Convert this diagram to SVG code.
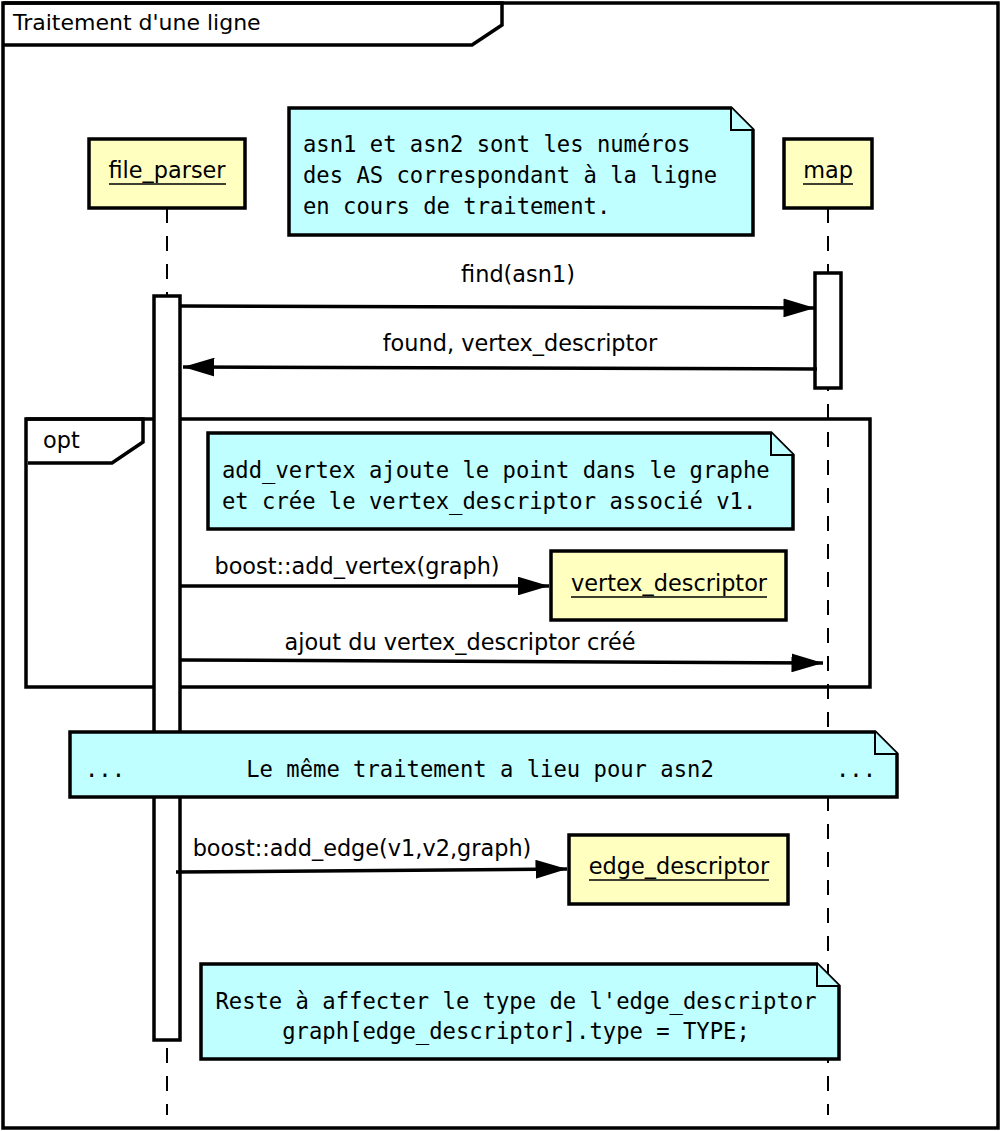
<svg xmlns="http://www.w3.org/2000/svg" width="1000" height="1131" viewBox="0 0 1000 1131">
<style>
.t{font-family:"DejaVu Sans",sans-serif;font-size:22.4px;fill:#000}
.m{font-family:"DejaVu Sans Mono",monospace;font-size:22.2px;fill:#000}
.box{fill:#ffffc0;stroke:#000;stroke-width:3.5}
.note{fill:#c0ffff;stroke:#000;stroke-width:3.5;stroke-linejoin:miter}
.ear{fill:#c0ffff;stroke:#000;stroke-width:2}
.life{stroke:#000;stroke-width:2;stroke-dasharray:15 13;fill:none}
.act{fill:#fff;stroke:#000;stroke-width:3.5}
.msg{stroke:#000;stroke-width:3.5;fill:none}
.frame{fill:none;stroke:#000;stroke-width:3.5}
.ul{stroke:#000;stroke-width:1.5}
</style>
<defs>
<marker id="ah" viewBox="0 0 10 6" refX="10" refY="3" markerWidth="9" markerHeight="5.4" markerUnits="strokeWidth" orient="auto">
<path d="M0,0 L10,3 L0,6 z" fill="#000"/>
</marker>
</defs>
<rect width="1000" height="1131" fill="#fff"/>
<g id="frame">
<rect class="frame" x="3" y="3" width="995" height="1125"/>
<path class="frame" d="M3,3 H502 V25 L472,45 H3"/>
<text class="t" x="13" y="30" style="font-size:22px">Traitement d'une ligne</text>
</g>
<g id="lifelines">
<line class="life" x1="167" y1="208" x2="167" y2="1115"/>
<line class="life" x1="828" y1="208" x2="828" y2="1115"/>
</g>
<g id="file_parser">
<rect class="box" x="89" y="139" width="156" height="69"/>
<text class="t" x="167" y="178" text-anchor="middle">file_parser</text>
<line class="ul" x1="109" y1="184" x2="226" y2="184"/>
</g>
<g id="map">
<rect class="box" x="784" y="139" width="88" height="69"/>
<text class="t" x="828" y="178" text-anchor="middle">map</text>
<line class="ul" x1="803" y1="184" x2="853" y2="184"/>
</g>
<g id="note1">
<path class="note" d="M289,108 H731 L753,130 V235 H289 Z"/>
<path class="ear" d="M731,108 V130 H753"/>
<text class="m" x="303" y="152">asn1 et asn2 sont les numéros</text>
<text class="m" x="303" y="183">des AS correspondant à la ligne</text>
<text class="m" x="303" y="214">en cours de traitement.</text>
</g>
<g id="opt">
<path class="frame" d="M26,419 H870 V687 H26 Z"/>
<path class="frame" d="M26,419 H143 V442 L112,463 H28"/>
<text class="t" x="43" y="448">opt</text>
</g>
<g id="act_file_parser">
<rect class="act" x="154" y="296" width="26" height="744"/>
</g>
<g id="act_map">
<rect class="act" x="815" y="273" width="26" height="115"/>
</g>
<g id="note2">
<path class="note" d="M208,433 H771 L793,455 V529 H208 Z"/>
<path class="ear" d="M771,433 V455 H793"/>
<text class="m" x="222" y="478">add_vertex ajoute le point dans le graphe</text>
<text class="m" x="222" y="509">et crée le vertex_descriptor associé v1.</text>
</g>
<g id="vertex_descriptor">
<rect class="box" x="551" y="551" width="235" height="69"/>
<text class="t" x="669" y="591" text-anchor="middle">vertex_descriptor</text>
<line class="ul" x1="571" y1="597" x2="767" y2="597"/>
</g>
<g id="note3">
<path class="note" d="M70,732 H875 L897,754 V797 H70 Z"/>
<path class="ear" d="M875,732 V754 H897"/>
<text class="m" x="85" y="777">...</text>
<text class="m" x="480" y="777" text-anchor="middle">Le même traitement a lieu pour asn2</text>
<text class="m" x="836" y="777">...</text>
</g>
<g id="edge_descriptor">
<rect class="box" x="569" y="835" width="219" height="69"/>
<text class="t" x="679" y="874" text-anchor="middle">edge_descriptor</text>
<line class="ul" x1="589" y1="880" x2="769" y2="880"/>
</g>
<g id="note4">
<path class="note" d="M201,964 H817 L839,986 V1059 H201 Z"/>
<path class="ear" d="M817,964 V986 H839"/>
<text class="m" x="516" y="1009" text-anchor="middle">Reste à affecter le type de l'edge_descriptor</text>
<text class="m" x="516" y="1039" text-anchor="middle">graph[edge_descriptor].type = TYPE;</text>
</g>
<g id="connectors">
<line class="msg" x1="180" y1="306" x2="815" y2="308" marker-end="url(#ah)"/>
<text class="t" x="518" y="282" text-anchor="middle">find(asn1)</text>
<line class="msg" x1="817" y1="369" x2="183" y2="367" marker-end="url(#ah)"/>
<text class="t" x="520" y="351" text-anchor="middle">found, vertex_descriptor</text>
<line class="msg" x1="180" y1="586" x2="549" y2="586" marker-end="url(#ah)"/>
<text class="t" x="357" y="574" text-anchor="middle">boost::add_vertex(graph)</text>
<line class="msg" x1="180" y1="660" x2="823" y2="663" marker-end="url(#ah)"/>
<text class="t" x="460" y="650" text-anchor="middle">ajout du vertex_descriptor créé</text>
<line class="msg" x1="176" y1="872" x2="567" y2="869" marker-end="url(#ah)"/>
<text class="t" x="362" y="856" text-anchor="middle">boost::add_edge(v1,v2,graph)</text>
</g>
</svg>
